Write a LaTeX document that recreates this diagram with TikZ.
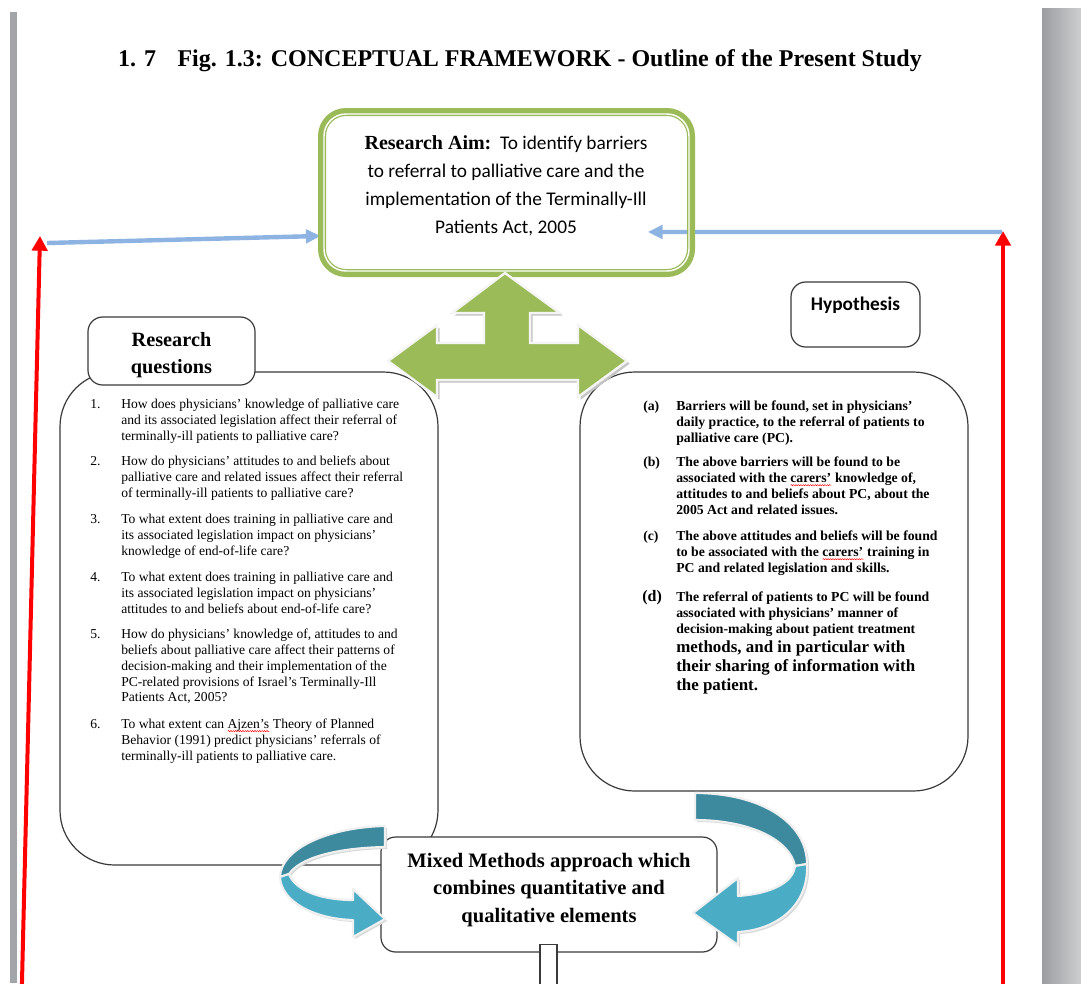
\documentclass[tikz,border=0pt]{standalone}
\usepackage{fontspec}
\setmainfont{Liberation Serif}
\newfontfamily\calibri{Carlito}
\usetikzlibrary{arrows.meta,decorations.pathmorphing}
\definecolor{aimgreen}{HTML}{9BBB59}
\definecolor{linkblue}{HTML}{8DB3E2}
\definecolor{tealdark}{HTML}{3D8A9F}
\definecolor{teallight}{HTML}{4BACC6}
\definecolor{boxline}{HTML}{3A3A3A}
\definecolor{pagegray}{HTML}{A3A6A9}
\newsavebox\spellbox
\newcommand\spellmark[1]{\sbox\spellbox{#1}\rlap{\usebox\spellbox}\raisebox{-2.3pt}[0pt][0pt]{\tikz[x=1pt,y=1pt]{\draw[red, line width=0.35pt, decorate, decoration={snake, amplitude=0.45pt, segment length=1.8pt}] (0,0) -- (\wd\spellbox,0);}}}
\begin{document}
\begin{tikzpicture}[x=0.75pt,y=-0.75pt,
  bigbox/.style={draw=boxline, line width=0.9pt, fill=white, rounded corners=41pt, inner sep=0pt, outer sep=0pt},
  headbox/.style={draw=boxline, line width=0.9pt, fill=white, rounded corners=11pt, inner sep=0pt, outer sep=0pt},
  rqtext/.style={anchor=north west, inner sep=0pt, align=left, font=\fontsize{10.2}{11.8}\selectfont},
  hytext/.style={anchor=north west, inner sep=0pt, align=left, font=\fontsize{10.3}{12}\selectfont\bfseries},
  hybig/.style={anchor=north west, inner sep=0pt, align=left, font=\fontsize{12.7}{14.6}\selectfont\bfseries},
  redarrow/.style={draw=red, line width=3pt, -{Triangle[length=11pt,width=11.5pt]}},
  bluearrow/.style={draw=linkblue, line width=3.3pt, -{Triangle[length=11pt,width=10pt]}},
  curl/.style={draw=white!88!gray, line width=1.6pt, line join=round}
]
\useasboundingbox (0,0) rectangle (1081,983);
\clip (0,0) rectangle (1081,983);
\fill[white] (0,0) rectangle (1081,983);
\fill[pagegray] (10,12) rectangle (17,983);
\shade[left color=pagegray!95!black, right color=pagegray!55!white] (1042,8) rectangle (1081,983);

% title
\node[anchor=base, inner sep=0pt, font=\fontsize{18}{20}\selectfont\bfseries] (title) at (520,66)
  {1. 7\hspace{16pt}Fig. 1.3: CONCEPTUAL FRAMEWORK - Outline of the Present Study};

% red side arrows
\coordinate (redLb) at (21.8,990);
\coordinate (redLt) at (40,236);
\coordinate (redRb) at (1003,990);
\coordinate (redRt) at (1003,231);
\draw[redarrow] (redLb) -- (redLt);
\draw[redarrow] (redRb) -- (redRt);

% research aim box
\coordinate (blueL) at (47,243);
\coordinate (blueR) at (1002,232);
\node[draw=none, minimum width=276.75pt, minimum height=120.75pt, inner sep=0pt, outer sep=0pt] (aim) at (506.5,192.5) {};
\draw[bluearrow] (blueL) -- ([yshift=-32.6pt,xshift=-1pt]aim.west);
\draw[bluearrow] (blueR) -- ([xshift=106pt,yshift=-29.6pt]aim.center);
\draw[aimgreen, line width=6pt, rounded corners=18pt] (aim.north west) rectangle (aim.south east);
\draw[white, line width=1.1pt, rounded corners=16.5pt] ([xshift=1.5pt,yshift=-1.5pt]aim.north west) rectangle ([xshift=-1.5pt,yshift=1.5pt]aim.south east);
\node[align=center, inner sep=0pt, font=\fontsize{14.5}{21}\selectfont\calibri] (aimtext) at (506,186)
  {{\rmfamily\bfseries\fontsize{15}{21}\selectfont Research Aim:}\ \ To identify barriers\\
   to referral to palliative care and the\\
   implementation of the Terminally-Ill\\
   Patients Act, 2005};

% big boxes
\node[bigbox, minimum width=283.5pt, minimum height=369.75pt] (rq) at (249,618.5) {};
\node[bigbox, minimum width=291pt, minimum height=314.25pt] (hyp) at (774,581.5) {};

% headers
\node[headbox, minimum width=125.25pt, minimum height=51pt] (rqhead) at (171.5,351) {};
\node[align=center, inner sep=0pt, font=\fontsize{15.2}{20}\selectfont\bfseries] (rqheadtext) at (171.5,355) {Research\\questions};
\node[headbox, minimum width=96.75pt, minimum height=48.75pt, text height=21pt, text depth=27.75pt,
      font=\fontsize{14.5}{17}\selectfont\calibri\bfseries] (hyphead) at (855.5,314.5) {Hypothesis};

% green three-way arrow
\def\greenarrow{(505,273) -- (560,313) -- (530,313) -- (530,343) -- (578,343) -- (578,325) -- (627,361) -- (578,397) -- (578,380) -- (437,380) -- (437,397) -- (388,361) -- (437,325) -- (437,343) -- (484,343) -- (484,313) -- (452,313) -- cycle}
\fill[gray!45, shift={(2pt,-2pt)}] \greenarrow;
\filldraw[fill=aimgreen, draw=white!92!gray, line width=1.8pt, line join=miter] \greenarrow;

% research questions text
\node[rqtext] (n1) at (90,399) {1.};
\node[rqtext] (q1) at (121,399) {How does physicians' knowledge of palliative care\\and its associated legislation affect their referral of\\terminally-ill patients to palliative care?};
\node[rqtext] (n2) at (90,456) {2.};
\node[rqtext] (q2) at (121,456) {How do physicians' attitudes to and beliefs about\\palliative care and related issues affect their referral\\of terminally-ill patients to palliative care?};
\node[rqtext] (n3) at (90,514) {3.};
\node[rqtext] (q3) at (121,514) {To what extent does training in palliative care and\\its associated legislation impact on physicians'\\knowledge of end-of-life care?};
\node[rqtext] (n4) at (90,572) {4.};
\node[rqtext] (q4) at (121,572) {To what extent does training in palliative care and\\its associated legislation impact on physicians'\\attitudes to and beliefs about end-of-life care?};
\node[rqtext] (n5) at (90,629) {5.};
\node[rqtext] (q5) at (121,629) {How do physicians' knowledge of, attitudes to and\\beliefs about palliative care affect their patterns of\\decision-making and their implementation of the\\PC-related provisions of Israel's Terminally-Ill\\Patients Act, 2005?};
\node[rqtext] (n6) at (90,719) {6.};
\node[rqtext] (q6) at (121,719) {To what extent can \spellmark{Ajzen's} Theory of Planned\\Behavior (1991) predict physicians' referrals of\\terminally-ill patients to palliative care.};

% hypothesis text
\node[hytext] (la) at (643,401) {(a)};
\node[hytext] (ha) at (676,401) {Barriers will be found, set in physicians'\\daily practice, to the referral of patients to\\palliative care (PC).};
\node[hytext] (lb) at (643,457) {(b)};
\node[hytext] (hb) at (676,457) {The above barriers will be found to be\\associated with the \spellmark{carers'} knowledge of,\\attitudes to and beliefs about PC, about the\\2005 Act and related issues.};
\node[hytext] (lc) at (643,531) {(c)};
\node[hytext] (hc) at (676,531) {The above attitudes and beliefs will be found\\to be associated with the \spellmark{carers'} training in\\PC and related legislation and skills.};
\node[hytext, font=\fontsize{12}{14}\selectfont\bfseries] (ld) at (642,590) {(d)};
\node[hytext] (hd) at (676,592) {The referral of patients to PC will be found\\associated with physicians' manner of\\decision-making about patient treatment};
\node[hybig] (hd2) at (676,640) {methods, and in particular with\\their sharing of information with\\the patient.};

% mixed methods box
\node[headbox, minimum width=252pt, minimum height=86.25pt] (mixed) at (549,894.5) {};
\node[align=center, inner sep=0pt, font=\fontsize{15.4}{20.6}\selectfont\bfseries] (mixedtext) at (549,890)
  {Mixed Methods approach which\\combines quantitative and\\qualitative elements};
\node[draw=boxline, line width=0.9pt, fill=white, anchor=north, minimum width=12.75pt, minimum height=40pt, inner sep=0pt] (stem) at (548.5,944) {};

% curved arrows (left)
\fill[gray!30, shift={(1.5pt,-1.5pt)}] (385,826) .. controls (330,827) and (281,848) .. (280,877) .. controls (281,902) and (315,919) .. (353,920) -- (353,937) -- (385,919) -- (353,889) -- (353,900) .. controls (320,900) and (295,890) .. (289,874) .. controls (300,858) and (335,848) .. (385,847) -- cycle;
\filldraw[curl, fill=tealdark] (385,826) .. controls (330,827) and (281,848) .. (280,877) -- (289,874) .. controls (300,858) and (335,848) .. (385,847) -- cycle;
\filldraw[curl, fill=teallight] (280,877) .. controls (281,902) and (315,919) .. (353,920) -- (353,937) -- (385,919) -- (353,889) -- (353,900) .. controls (320,900) and (295,890) .. (289,874) -- cycle;

% curved arrows (right)
\fill[gray!30, shift={(1.5pt,-1.5pt)}] (695,793) .. controls (760,793) and (807,822) .. (807,864) .. controls (809,907) and (775,930) .. (738,932) -- (738,945) -- (693,913) -- (738,878) -- (738,896) .. controls (768,894) and (793,884) .. (795,866) .. controls (790,840) and (750,820) .. (695,820) -- cycle;
\filldraw[curl, fill=tealdark] (695,793) .. controls (760,793) and (807,822) .. (807,864) -- (795,866) .. controls (790,840) and (750,820) .. (695,820) -- cycle;
\filldraw[curl, fill=teallight] (807,864) .. controls (809,907) and (775,930) .. (738,932) -- (738,945) -- (693,913) -- (738,878) -- (738,896) .. controls (768,894) and (793,884) .. (795,866) -- cycle;
\end{tikzpicture}
\end{document}
